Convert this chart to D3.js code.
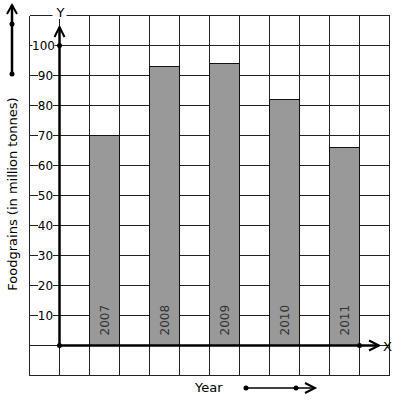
<!DOCTYPE html>
<head>
  <meta charset="utf-8">
  <script src="https://d3js.org/d3.v7.min.js"></script>
  <style>
    body { margin: 0; background: #fff; }
    svg { display: block; font-family: "DejaVu Sans", sans-serif; }
    .grid line { stroke: #222; stroke-width: 1; shape-rendering: crispEdges; }
    .bar { fill: #999; stroke: #111; stroke-width: 1; shape-rendering: crispEdges; }
  </style>
</head>
<body>
  <svg id="chart" width="397" height="401"></svg>
  <script>
    var years = ["2007", "2008", "2009", "2010", "2011"];
    var foodgrains = [70, 93, 94, 82, 66];
    var yTicks = [10, 20, 30, 40, 50, 60, 70, 80, 90, 100];

    var svg = d3.select("#chart");

    // grid: 12 columns x 12 rows of 30px
    var x = d3.scaleLinear().domain([-1, 11]).range([29.5, 389.5]);
    var y = d3.scaleLinear().domain([-10, 110]).range([375.5, 15.5]);

    var grid = svg.append("g").attr("class", "grid");
    grid.selectAll(".v").data(d3.range(-1, 12)).join("line")
      .attr("x1", d => x(d)).attr("x2", d => x(d))
      .attr("y1", y(110)).attr("y2", y(-10));
    grid.selectAll(".h").data(d3.range(-10, 111, 10)).join("line")
      .attr("y1", d => y(d)).attr("y2", d => y(d))
      .attr("x1", x(-1)).attr("x2", x(11));

    // bars
    svg.selectAll(".bar").data(foodgrains).join("rect")
      .attr("class", "bar")
      .attr("x", (d, i) => x(2 * i + 1))
      .attr("width", x(1) - x(0))
      .attr("y", d => y(d))
      .attr("height", d => y(0) - y(d));

    svg.selectAll(".yr").data(years).join("text")
      .attr("class", "yr")
      .attr("transform", (d, i) => "translate(" + (x(2 * i + 1.5) + 4) + "," + (y(0) - 10) + ") rotate(-90)")
      .attr("font-size", 12)
      .attr("fill", "#333")
      .text(d => d);

    // tick labels with white background
    var tick = svg.selectAll(".tick").data(yTicks).join("g")
      .attr("class", "tick")
      .attr("transform", d => "translate(" + (x(-0.5) + 1) + "," + y(d) + ")");
    tick.append("rect")
      .attr("x", d => d === 100 ? -13 : -7.5).attr("width", d => d === 100 ? 22 : 15)
      .attr("y", -6).attr("height", 12)
      .attr("fill", "#fff");
    tick.append("text")
      .attr("text-anchor", "middle")
      .attr("dy", "0.36em")
      .attr("x", d => d === 100 ? -2 : 0)
      .attr("font-size", 12)
      .text(d => d);

    // axes
    var arrow = function (g, x0, y0, x1, y1) {
      g.append("line").attr("x1", x0).attr("y1", y0).attr("x2", x1).attr("y2", y1)
        .attr("stroke", "#000").attr("stroke-width", 2.5);
    };
    var head = function (pts) {
      svg.append("polyline").attr("points", pts)
        .attr("fill", "none").attr("stroke", "#000").attr("stroke-width", 2);
    };
    arrow(svg, x(0), y(0), x(0), 27);
    head([[x(0) - 5, 37], [x(0), 27], [x(0) + 5, 37]].join(" "));
    arrow(svg, x(0), y(0), 379, y(0));
    head([[369, y(0) - 5], [379, y(0)], [369, y(0) + 5]].join(" "));
    svg.append("circle").attr("cx", x(0)).attr("cy", y(100)).attr("r", 2.5);
    svg.append("circle").attr("cx", x(0)).attr("cy", y(0)).attr("r", 2.5);
    svg.append("circle").attr("cx", x(10)).attr("cy", y(0)).attr("r", 2.5);

    svg.append("rect").attr("x", x(0) - 7).attr("y", 5).attr("width", 14).attr("height", 14).attr("fill", "#fff");
    svg.append("text").attr("x", x(0) + 1).attr("y", 17).attr("text-anchor", "middle")
      .attr("font-size", 13).text("Y");
    svg.append("text").attr("x", 383).attr("y", y(0) + 5)
      .attr("font-size", 13).text("X");

    // axis titles and their direction arrows
    svg.append("text")
      .attr("transform", "translate(17,194) rotate(-90)")
      .attr("text-anchor", "middle")
      .attr("font-size", 13)
      .text("Foodgrains (in million tonnes)");
    arrow(svg, 12, 74, 12, 5);
    head([[7, 14], [12, 5], [17, 14]].join(" "));
    svg.append("circle").attr("cx", 12).attr("cy", 24).attr("r", 2.5);
    svg.append("circle").attr("cx", 12).attr("cy", 74).attr("r", 2.5);

    svg.append("text").attr("x", 195).attr("y", 392)
      .attr("font-size", 13).text("Year");
    svg.append("line").attr("x1", 246).attr("y1", 388).attr("x2", 314).attr("y2", 388)
      .attr("stroke", "#000").attr("stroke-width", 1.5);
    head([[305, 383], [315, 388], [305, 393]].join(" "));
    svg.append("circle").attr("cx", 246).attr("cy", 388).attr("r", 2.5);
    svg.append("circle").attr("cx", 296).attr("cy", 388).attr("r", 2.5);
  </script>
</body>
